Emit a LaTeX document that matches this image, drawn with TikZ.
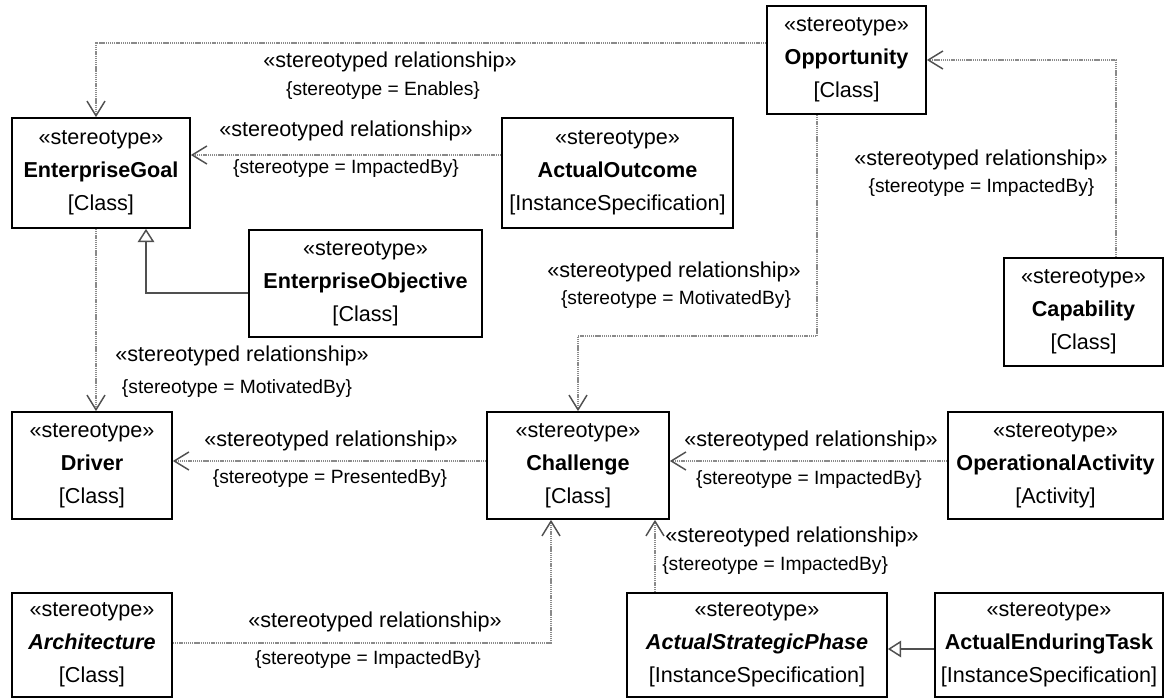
\documentclass[tikz,border=0pt]{standalone}
\usepackage{fontspec}
\setmainfont{Liberation Sans}
\usetikzlibrary{arrows.meta}
\definecolor{dotline}{HTML}{8A8A8A}
\definecolor{tipcol}{HTML}{505050}
\tikzset{
  every node/.style={font=\fontsize{16.2}{24.75}\selectfont, inner sep=0pt},
  umlbox/.style 2 args={draw=black, line width=1.3pt, fill=white, align=center,
     minimum width=#1*0.75pt, minimum height=#2*0.75pt},
  dep/.style={draw=dotline, line width=1.1pt, dash pattern=on 1pt off 0.6pt,
     -{Straight Barb[length=11pt,width=13.5pt,line width=1.1pt,color=tipcol]}},
  gen/.style={draw=tipcol, line width=1.1pt,
     -{Triangle[open,length=10pt,width=12.5pt,line width=1.1pt,fill=white]}},
  lbl/.style={align=center},
  lblsm/.style={align=center, font=\fontsize{14.4}{17}\selectfont}
}
\begin{document}
\begin{tikzpicture}[x=0.75pt,y=-0.75pt]
\useasboundingbox (0,0) rectangle (1164,698);
% boxes
\node[umlbox={178}{110}] (EG) at (101,173) {«stereotype»\\\textbf{EnterpriseGoal}\\{[Class]}};
\node[umlbox={231}{110}] (AO) at (617.5,173) {«stereotype»\\\textbf{ActualOutcome}\\{[InstanceSpecification]}};
\node[umlbox={159}{108}] (OPP) at (846.5,60) {«stereotype»\\\textbf{Opportunity}\\{[Class]}};
\node[umlbox={233}{107}] (EO) at (365.5,283.5) {«stereotype»\\\textbf{EnterpriseObjective}\\{[Class]}};
\node[umlbox={159}{108}] (CAP) at (1083.5,312) {«stereotype»\\\textbf{Capability}\\{[Class]}};
\node[umlbox={160}{107}] (DRV) at (92,465.5) {«stereotype»\\\textbf{Driver}\\{[Class]}};
\node[umlbox={182}{107}] (CH) at (578,465.5) {«stereotype»\\\textbf{Challenge}\\{[Class]}};
\node[umlbox={215}{107}] (OA) at (1055.5,465.5) {«stereotype»\\\textbf{OperationalActivity}\\{[Activity]}};
\node[umlbox={160}{104}] (ARC) at (92,645) {«stereotype»\\\textbf{\itshape Architecture}\\{[Class]}};
\node[umlbox={260}{104}] (ASP) at (757,645) {«stereotype»\\\textbf{\itshape ActualStrategicPhase}\\{[InstanceSpecification]}};
\node[umlbox={228}{104}] (AET) at (1049,645) {«stereotype»\\\textbf{ActualEnduringTask}\\{[InstanceSpecification]}};
% connectors
\draw[dep] (OPP.west |- 0,43) -| (96,0 |- EG.north);
\draw[dep] (AO.west |- 0,155) -- (EG.east |- 0,155);
\draw[gen] (EO.west |- 0,293) -| (146,0 |- EG.south);
\draw[dep] (96,0 |- EG.south) -- (96,0 |- DRV.north);
\draw[dep] (817,0 |- OPP.south) |- (700,336) -| (CH.north);
\draw[dep] (1116,0 |- CAP.north) |- (OPP.east);
\draw[dep] (CH.west |- 0,461) -- (DRV.east |- 0,461);
\draw[dep] (OA.west |- 0,461) -- (CH.east |- 0,461);
\draw[dep] (655,0 |- ASP.north) -- (655,0 |- CH.south);
\draw[dep] (ARC.east |- 0,643) -| (551,0 |- CH.south);
\draw[gen] (AET.west |- 0,649) -- (ASP.east |- 0,649);
% labels
\node[lbl] (l1a) at (390,62) {«stereotyped relationship»};
\node[lblsm] (l1b) at (383,91) {\{stereotype = Enables\}};
\node[lbl] (l2a) at (346,131) {«stereotyped relationship»};
\node[lblsm] (l2b) at (346,169) {\{stereotype = ImpactedBy\}};
\node[lbl] (l4a) at (242,356) {«stereotyped relationship»};
\node[lblsm] (l4b) at (237,389) {\{stereotype = MotivatedBy\}};
\node[lbl] (l5a) at (674,272) {«stereotyped relationship»};
\node[lblsm] (l5b) at (676,300) {\{stereotype = MotivatedBy\}};
\node[lbl] (l6a) at (981,160) {«stereotyped relationship»};
\node[lblsm] (l6b) at (981.5,188) {\{stereotype = ImpactedBy\}};
\node[lbl] (l7a) at (331,441) {«stereotyped relationship»};
\node[lblsm] (l7b) at (330,479) {\{stereotype = PresentedBy\}};
\node[lbl] (l8a) at (811,441) {«stereotyped relationship»};
\node[lblsm] (l8b) at (809,480) {\{stereotype = ImpactedBy\}};
\node[lbl, anchor=west] (l9a) at (665,537) {«stereotyped relationship»};
\node[lblsm, anchor=west] (l9b) at (662,566) {\{stereotype = ImpactedBy\}};
\node[lbl] (l10a) at (375,622) {«stereotyped relationship»};
\node[lblsm] (l10b) at (368,660) {\{stereotype = ImpactedBy\}};
\end{tikzpicture}
\end{document}
